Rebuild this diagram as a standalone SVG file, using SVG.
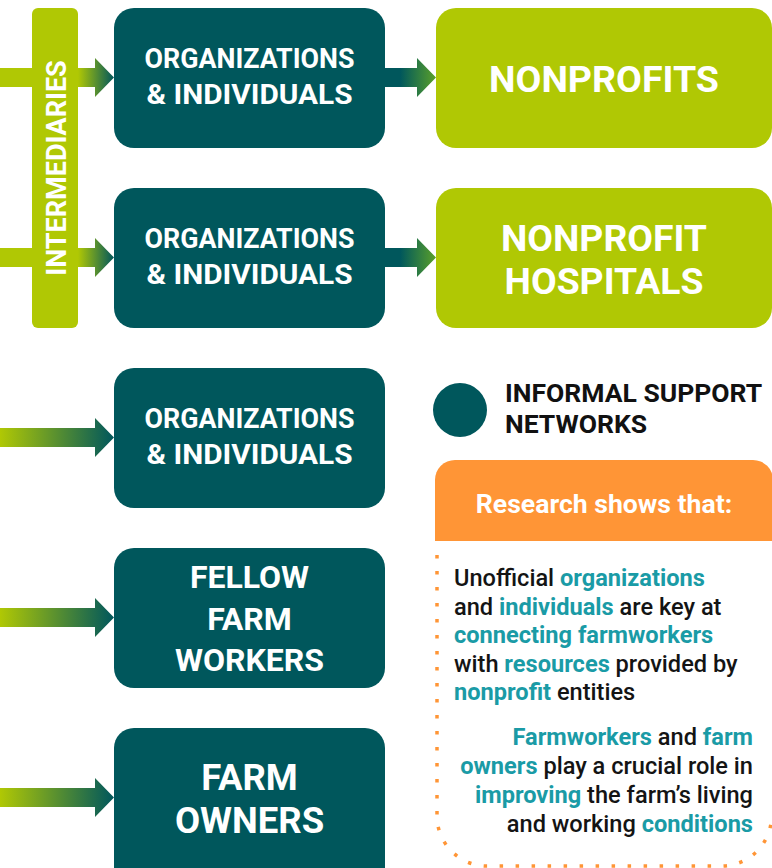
<svg xmlns="http://www.w3.org/2000/svg" width="772" height="868" viewBox="0 0 772 868">
<defs>
<linearGradient id="gLT" x1="0" y1="0" x2="1" y2="0"><stop offset="0" stop-color="#b0c804"/><stop offset="1" stop-color="#00575c"/></linearGradient>
<linearGradient id="gTL" x1="0" y1="0" x2="1" y2="0"><stop offset="0.3" stop-color="#00575c"/><stop offset="1" stop-color="#5aa02a"/></linearGradient>
<style>
.teal{fill:#00575c}
.lime{fill:#b0c804}
.wt{fill:#fff;font-family:Roboto,"Liberation Sans",sans-serif;font-weight:700;text-anchor:middle}
.lg{fill:#111;font-family:Roboto,"Liberation Sans",sans-serif;font-weight:700;font-size:26.5px}
.body{font-family:Roboto,"Liberation Sans",sans-serif;font-size:23.6px;font-weight:500;fill:#141414}
.hl{fill:#1a9ba6;font-weight:700}
</style>
</defs>
<g id="connectors">
<rect x="0" y="68" width="34" height="19" class="lime"/>
<rect x="0" y="248" width="34" height="19" class="lime"/>
<path d="M78,68 H95 V58 L114,77.5 L95,97 V87 H78 Z" fill="url(#gLT)"/>
<path d="M78,248 H95 V238 L114,257.5 L95,277 V267 H78 Z" fill="url(#gLT)"/>
<path d="M385,68 H417 V58 L436,77.5 L417,97 V87 H385 Z" fill="url(#gTL)"/>
<path d="M385,248 H417 V238 L436,257.5 L417,277 V267 H385 Z" fill="url(#gTL)"/>
<path d="M0,428 H95 V418 L114,437.5 L95,457 V447 H0 Z" fill="url(#gLT)"/>
<path d="M0,608 H95 V598 L114,617.5 L95,637 V627 H0 Z" fill="url(#gLT)"/>
<path d="M0,788 H95 V778 L114,797.5 L95,817 V807 H0 Z" fill="url(#gLT)"/>
</g>
<g id="intermediaries">
<rect x="32" y="8" width="46" height="320" rx="6" class="lime"/>
<text class="wt" font-size="27" transform="translate(65.5,168) rotate(-90)">INTERMEDIARIES</text>
</g>
<g id="org1">
<rect x="114" y="8" width="271" height="140" rx="20" class="teal"/>
<text class="wt" font-size="26.8" x="249.5" y="68">ORGANIZATIONS</text>
<text class="wt" font-size="26.8" x="249.5" y="104" textLength="206" lengthAdjust="spacingAndGlyphs">&amp; INDIVIDUALS</text>
</g>
<g id="org2">
<rect x="114" y="188" width="271" height="140" rx="20" class="teal"/>
<text class="wt" font-size="26.8" x="249.5" y="248">ORGANIZATIONS</text>
<text class="wt" font-size="26.8" x="249.5" y="284" textLength="206" lengthAdjust="spacingAndGlyphs">&amp; INDIVIDUALS</text>
</g>
<g id="org3">
<rect x="114" y="368" width="271" height="140" rx="20" class="teal"/>
<text class="wt" font-size="26.8" x="249.5" y="428">ORGANIZATIONS</text>
<text class="wt" font-size="26.8" x="249.5" y="464" textLength="206" lengthAdjust="spacingAndGlyphs">&amp; INDIVIDUALS</text>
</g>
<g id="fellow">
<rect x="114" y="548" width="271" height="140" rx="20" class="teal"/>
<text class="wt" font-size="32" x="249.5" y="588">FELLOW</text>
<text class="wt" font-size="32" x="249.5" y="630">FARM</text>
<text class="wt" font-size="32" x="249.5" y="671">WORKERS</text>
</g>
<g id="owners">
<rect x="114" y="728" width="271" height="160" rx="20" class="teal"/>
<text class="wt" font-size="36.5" x="249.5" y="790">FARM</text>
<text class="wt" font-size="36.5" x="249.5" y="833">OWNERS</text>
</g>
<g id="nonprofits">
<rect x="436" y="8" width="336" height="140" rx="20" class="lime"/>
<text class="wt" font-size="37.5" x="604" y="92">NONPROFITS</text>
</g>
<g id="hospitals">
<rect x="436" y="188" width="336" height="140" rx="20" class="lime"/>
<text class="wt" font-size="37.3" x="604" y="251">NONPROFIT</text>
<text class="wt" font-size="37.3" x="604" y="294">HOSPITALS</text>
</g>
<g id="legend">
<circle cx="460" cy="410" r="27" class="teal"/>
<text class="lg" x="505" y="402">INFORMAL SUPPORT</text>
<text class="lg" x="505" y="433">NETWORKS</text>
</g>
<g id="research">
<path d="M435,541 V480 A20,20 0 0 1 455,460 H753 A20,20 0 0 1 773,480 V541 Z" fill="#ff9536"/>
<text class="wt" font-size="26.6" x="604" y="513">Research shows that:</text>
<path d="M437,555 V816 A50,50 0 0 0 487,866 H721.5 A50,50 0 0 0 771.5,816" fill="none" stroke="#ff9536" stroke-width="3.5" stroke-dasharray="3.5 12.5"/>
<text class="body" x="454" y="586">Unofficial <tspan class="hl">organizations</tspan></text>
<text class="body" x="454" y="615">and <tspan class="hl">individuals</tspan> are key at</text>
<text class="body" x="454" y="643"><tspan class="hl">connecting farmworkers</tspan></text>
<text class="body" x="454" y="672">with <tspan class="hl">resources</tspan> provided by</text>
<text class="body" x="454" y="700"><tspan class="hl">nonprofit</tspan> entities</text>
<text class="body" x="753" y="745" text-anchor="end"><tspan class="hl">Farmworkers</tspan> and <tspan class="hl">farm</tspan></text>
<text class="body" x="753" y="774" text-anchor="end"><tspan class="hl">owners</tspan> play a crucial role in</text>
<text class="body" x="753" y="803" text-anchor="end"><tspan class="hl">improving</tspan> the farm’s living</text>
<text class="body" x="753" y="832" text-anchor="end">and working <tspan class="hl">conditions</tspan></text>
</g>
</svg>
